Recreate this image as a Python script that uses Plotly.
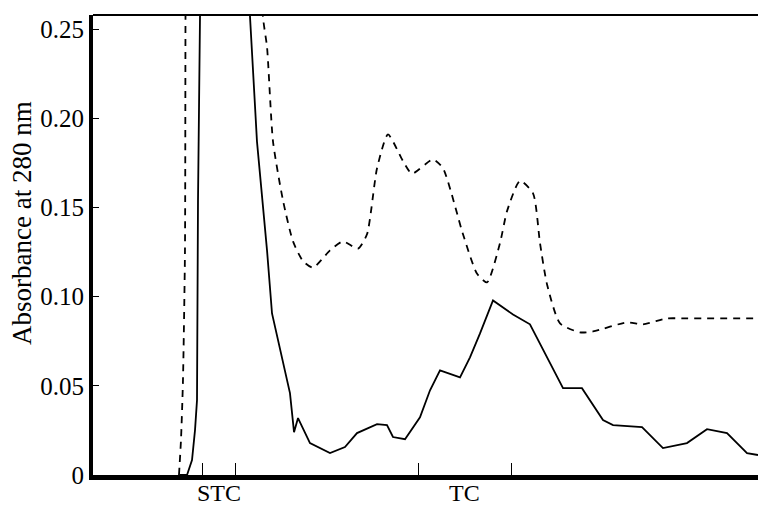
import plotly.graph_objects as go

# Elution position (arbitrary units, 0-100 across the plot) and absorbance at 280 nm
solid_x = [13.0, 14.14, 14.89, 15.34, 15.64, 15.79, 16.09, 16.6, 23.0, 23.61, 24.66, 26.17, 26.92,
           28.12, 29.62, 30.23, 30.83, 32.63, 35.64, 37.89, 39.70, 42.71, 44.21, 45.11,
           46.92, 49.17, 50.68, 52.18, 55.19, 56.69, 58.20, 60.15, 63.16, 65.71, 70.68,
           73.53, 76.69, 78.20, 82.56, 85.71, 89.32, 92.33, 95.34, 98.35, 100.0]
solid_y = [0.0, 0.0, 0.0084, 0.0252, 0.0420, 0.154, 0.257, 0.32, 0.32, 0.257, 0.187, 0.126, 0.0906,
           0.0699, 0.0459, 0.0240, 0.0319, 0.0179, 0.0123, 0.0157, 0.0235, 0.0285, 0.0280, 0.0213,
           0.0201, 0.0324, 0.0475, 0.0587, 0.0548, 0.0660, 0.0794, 0.0979, 0.0900, 0.0845, 0.0487,
           0.0487, 0.0308, 0.0280, 0.0268, 0.0151, 0.0179, 0.0257, 0.0235, 0.0123, 0.0112]

dashed_x = [12.93, 13.23, 13.53, 13.83, 13.91, 14.0, 25.2, 25.56, 26.17, 27.07, 28.57, 30.08, 31.58,
            33.08, 35.64, 37.59, 39.85, 41.20, 42.71, 44.36, 46.62, 47.97, 51.13, 52.63,
            55.64, 57.74, 59.25, 61.20, 62.26, 64.21, 66.17, 67.22, 68.27, 70.23, 73.23,
            75.19, 80.30, 82.71, 86.32, 89.32, 100.0]
dashed_y = [0.0, 0.0196, 0.0531, 0.126, 0.257, 0.32, 0.32, 0.257, 0.240, 0.187, 0.154, 0.131, 0.120,
            0.1163, 0.126, 0.131, 0.127, 0.135, 0.172, 0.191, 0.176, 0.169, 0.177, 0.172,
            0.135, 0.113, 0.108, 0.130, 0.148, 0.165, 0.158, 0.130, 0.107, 0.085, 0.080,
            0.0805, 0.0856, 0.0845, 0.0878, 0.0878, 0.0878]

y_tickvals = [0, 0.05, 0.10, 0.15, 0.20, 0.25]
y_ticktext = ["0", "0.05", "0.10", "0.15", "0.20", "0.25"]
x_tickvals = [16.4, 21.4, 48.9, 63.0]
x_labels = ["STC", "TC"]
x_label_pos = [18.9, 55.9]
y_title = "Absorbance at 280 nm"

FONT = "Liberation Serif, Times New Roman, DejaVu Serif, serif"

fig = go.Figure()
fig.add_trace(go.Scatter(x=dashed_x, y=dashed_y, mode="lines",
                         line=dict(color="black", width=1.8, dash="7px,6px",
                                   shape="spline", smoothing=0.6),
                         showlegend=False, hoverinfo="skip"))
fig.add_trace(go.Scatter(x=solid_x, y=solid_y, mode="lines",
                         line=dict(color="black", width=1.8),
                         showlegend=False, hoverinfo="skip"))

for lab, pos in zip(x_labels, x_label_pos):
    fig.add_annotation(x=pos, y=0, xref="x", yref="y", text=lab, showarrow=False,
                       yanchor="top", yshift=-3, font=dict(family=FONT, size=24, color="black"))

# y-axis title placed as an annotation (the original sits above the plot's mid-height)
fig.add_annotation(x=0, y=0.548, xref="paper", yref="paper", text=y_title, showarrow=False,
                   textangle=-90, xanchor="center", yanchor="middle", xshift=-71,
                   font=dict(family=FONT, size=27, color="black"))

# top border line
fig.add_shape(type="line", xref="paper", yref="paper", x0=0, x1=1, y0=1, y1=1,
              line=dict(color="black", width=2))

fig.update_layout(
    width=758, height=505,
    margin=dict(l=93, r=0, t=15, b=30),
    plot_bgcolor="white", paper_bgcolor="white",
    font=dict(family=FONT, color="black", size=24),
    xaxis=dict(range=[0, 100], showgrid=False, zeroline=False,
               showline=True, linecolor="black", linewidth=5,
               tickvals=x_tickvals, ticktext=["", "", "", ""],
               ticks="inside", ticklen=12, tickwidth=1, tickcolor="black"),
    yaxis=dict(range=[0, 0.258], showgrid=False, zeroline=False,
               showline=True, linecolor="black", linewidth=4,
               tickvals=y_tickvals, ticktext=y_ticktext,
               ticks="inside", ticklen=6, tickwidth=1, tickcolor="black",
               tickfont=dict(family=FONT, size=25)),
)

fig.write_html("out.html", config={"displayModeBar": False},
               post_script="document.body.style.margin='0';document.body.style.padding='0';")
